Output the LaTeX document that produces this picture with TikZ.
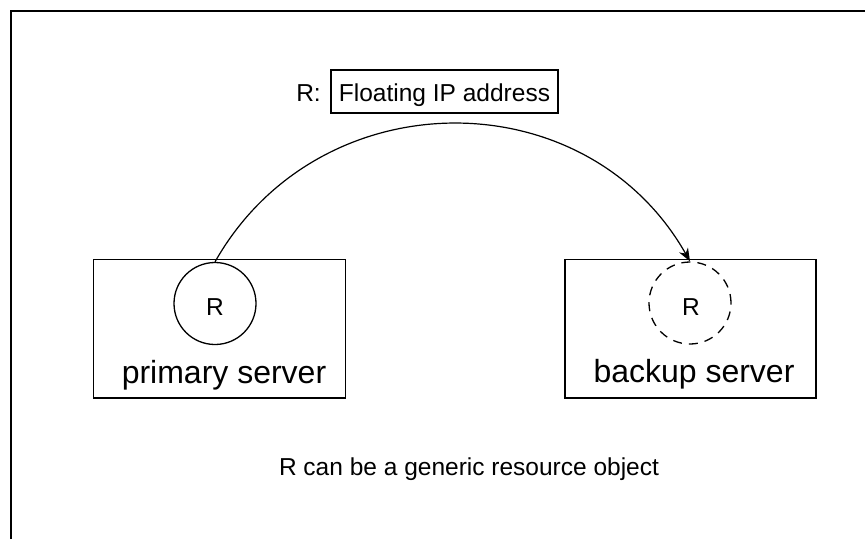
\documentclass[tikz,border=0pt]{standalone}
\usepackage{fontspec}
\setmainfont{Liberation Sans}
\usetikzlibrary{arrows.meta}
\begin{document}
\begin{tikzpicture}[x=1pt,y=-1pt,
  box/.style={draw,line width=1.3pt,inner sep=0pt},
  res/.style={circle,line width=1.3pt,inner sep=0pt,minimum size=82pt},
  lbl/.style={font=\fontsize{24.5}{28}\selectfont,inner sep=0pt},
  big/.style={font=\fontsize{32}{36}\selectfont,inner sep=0pt},
]
\useasboundingbox (0,0) rectangle (865,539);
% frame
\coordinate (fb) at (11,539);
\coordinate (ftl) at (11,11);
\coordinate (fr) at (866,11);
\draw[line width=2.6pt] (fb) -- (ftl) -- (fr);
% server boxes
\node[box,minimum width=252pt,minimum height=138.5pt] (prim) at (219.5,328.75) {};
\node[box,minimum width=251pt,minimum height=138.5pt] (back) at (690.5,328.75) {};
\node[big,anchor=base] (ptxt) at (224,383) {primary server};
\node[big,anchor=base] (btxt) at (694,382) {backup server};
% resources
\node[res,draw] (pc) at (215,303.5) {};
\node[res,draw,dash pattern=on 9pt off 7pt] (bc) at (690,303) {};
\node[lbl,anchor=base] (pr) at (215,315) {R};
\node[lbl,anchor=base] (br) at (691,315) {R};
% floating IP
\node[box,lbl,minimum width=227pt,minimum height=43pt,text height=22pt,text depth=1.6pt] (fip) at (444.5,91.5) {Floating IP address};
\node[lbl,anchor=base east] (rl) at (321,101.7) {R:};
% arc
\draw[line width=1.2pt,-{Stealth[length=13pt,width=10pt,inset=4pt]}]
  (pc.north) .. controls +(104,-183.5) and +(-104,-183.5) .. (bc.north);
% note
\node[lbl,anchor=base] (note) at (469,475) {R can be a generic resource object};
\end{tikzpicture}
\end{document}
